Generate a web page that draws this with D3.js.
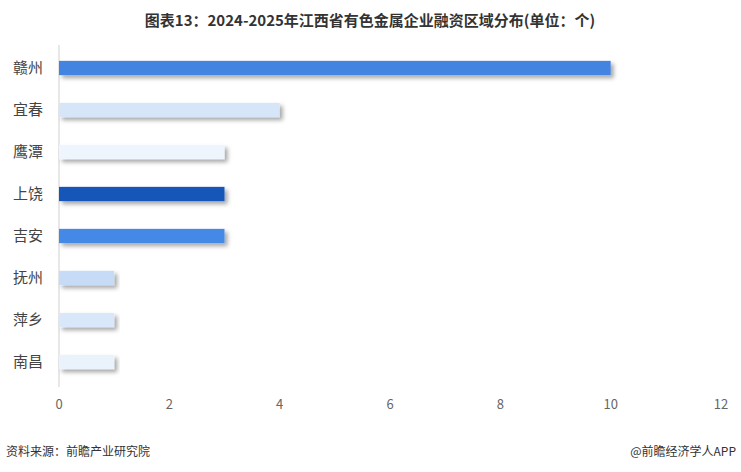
<!DOCTYPE html>
<html><head><meta charset="utf-8">
<script src="https://cdn.jsdelivr.net/npm/d3@7"></script>
<style>body{margin:0;background:#fff;}svg{display:block;font-family:"Noto Sans CJK SC","Noto Sans",sans-serif;}</style>
</head><body>
<svg id="c" width="741" height="472"></svg>
<script>
const categories = ["赣州","宜春","鹰潭","上饶","吉安","抚州","萍乡","南昌"];
const values = [10,4,3,3,3,1,1,1];
const colors = ["#4384e0","#d6e6f8","#eef5fd","#1557b9","#4489e6","#c6dcf6","#d8e7f9","#eaf2fc"];
const ticks = [0,2,4,6,8,10,12];

const svg = d3.select("#c");
const defs = svg.append("defs");
const f = defs.append("filter").attr("id","sh").attr("x","-5%").attr("y","-50%").attr("width","115%").attr("height","250%");
f.append("feDropShadow").attr("dx",3).attr("dy",3).attr("stdDeviation",2).attr("flood-color","#000").attr("flood-opacity",0.35);

const x = d3.scaleLinear().domain([0,12]).range([59,721]);
const y = d3.scaleBand().domain(categories).range([47,383]).paddingInner(0.66).paddingOuter(0.33);

svg.append("text").attr("x",370).attr("y",26).attr("text-anchor","middle")
  .attr("font-size",15).attr("font-weight","bold").attr("fill","#333")
  .text("图表13：2024-2025年江西省有色金属企业融资区域分布(单位：个)");

svg.append("line").attr("x1",59).attr("x2",59).attr("y1",45).attr("y2",387).attr("stroke","#d0d0d0");

svg.selectAll("rect.bar").data(categories).join("rect").attr("class","bar")
  .attr("x",x(0)).attr("y",d=>y(d)).attr("height",y.bandwidth())
  .attr("width",(d,i)=>x(values[i])-x(0)).attr("fill",(d,i)=>colors[i]).attr("filter","url(#sh)");

svg.selectAll("text.cat").data(categories).join("text").attr("class","cat")
  .attr("x",43).attr("y",d=>y(d)+y.bandwidth()/2).attr("dy","0.35em").attr("text-anchor","end")
  .attr("font-size",15).attr("fill","#444").text(d=>d);

svg.selectAll("text.tick").data(ticks).join("text").attr("class","tick")
  .attr("x",d=>x(d)).attr("y",409).attr("text-anchor","middle")
  .attr("font-size",13).attr("fill","#666").text(d=>d);

svg.append("text").attr("x",6).attr("y",456).attr("font-size",12).attr("fill","#333").text("资料来源：前瞻产业研究院");
svg.append("text").attr("x",736).attr("y",456).attr("text-anchor","end").attr("font-size",12).attr("fill","#333").text("@前瞻经济学人APP");
</script>
</body></html>
